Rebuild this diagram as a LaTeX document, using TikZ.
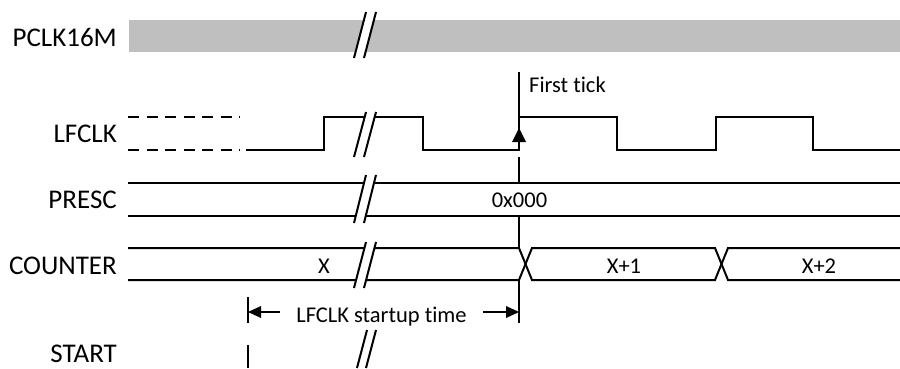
\documentclass[tikz,border=0pt]{standalone}
\usepackage{fontspec}
\setmainfont{Carlito}[Ligatures=NoCommon]
\usetikzlibrary{arrows.meta,calc}
\definecolor{barGray}{HTML}{BFBFBF}
\tikzset{
  sig/.style={line width=2pt, line join=miter},
  siglabel/.style={inner sep=0pt, anchor=base east, font=\fontsize{27}{32}\selectfont},
  annot/.style={inner sep=0pt, anchor=base, font=\fontsize{22.5}{27}\selectfont},
}
\newcommand{\brkmark}[2]{%
  \fill[white] (366,#1) -- (376,#1) -- (364,#2) -- (354,#2) -- cycle;
  \draw[line width=2pt] (366,#1) -- (354,#2);
  \draw[line width=2pt] (376,#1) -- (364,#2);
}
\begin{document}
\begin{tikzpicture}[x=1pt,y=-1pt]
\useasboundingbox (0,0) rectangle (900,368);
% labels
\node[siglabel] (lpclk) at (117,46) {PCLK16M};
\node[siglabel] (llf) at (117,142) {LFCLK};
\node[siglabel] (lpresc) at (117,208) {PRESC};
\node[siglabel] (lcnt) at (117,274) {COUNTER};
\node[siglabel] (lstart) at (117,362) {START};
% PCLK16M bar
\fill[barGray] (129,20) rectangle (900,52);
\brkmark{12}{58}
% LFCLK
\draw[sig, dash pattern=on 11pt off 7.5pt] (128,117) -- (240,117);
\draw[sig, dash pattern=on 11pt off 7.5pt] (128,150) -- (240,150);
\draw[sig] (246,150) -- (324,150) -- (324,117) -- (423,117) -- (423,150) -- (519,150) -- (519,117)
  -- (617,117) -- (617,150) -- (716,150) -- (716,117) -- (813,117) -- (813,150) -- (900,150);
\brkmark{112}{157}
% PRESC
\draw[sig] (128,183) -- (900,183);
\draw[sig] (128,216) -- (900,216);
\brkmark{175}{223}
\node[annot] (vpresc) at (519.5,207) {0x000};
% COUNTER
\draw[sig] (128,248) -- (519,248) -- (532,280) -- (715,280) -- (728,248) -- (900,248);
\draw[sig] (128,280) -- (519,280) -- (532,248) -- (715,248) -- (728,280) -- (900,280);
\brkmark{242}{288}
\node[annot] (vx) at (324,273) {X};
\node[annot] (vx1) at (624,273) {X+1};
\node[annot] (vx2) at (819,273) {X+2};
% first tick line
\coordinate (ft0) at (519,72);
\coordinate (ftlow) at (519,150);
\coordinate (fttip) at (519,128);
\draw[sig] (ft0) -- (ftlow);
\fill (fttip) -- ++(7,14) -- ++(-14,0) -- cycle;
\draw[sig] (519,157) -- (519,183);
\draw[sig] (519,216) -- (519,248);
\coordinate (ftend) at (519,323);
\draw[sig] (519,280) -- (ftend);
\node[inner sep=0pt, anchor=base west, font=\fontsize{22.5}{27}\selectfont] (ftick) at (529,92) {First tick};
% startup time
\coordinate (st0) at (248,297);
\coordinate (st1) at (248,323);
\draw[sig] (st0) -- (st1);
\node[annot] (stlabel) at (381.5,322) {LFCLK startup time};
\coordinate (aL0) at (280,312);
\coordinate (aL1) at (248,312);
\coordinate (aR0) at (483,312);
\coordinate (aR1) at (519,312);
\draw[sig] (aL0) -- ($(aL1)+(8,0)$);
\fill (aL1) -- ++(13,-6) -- ++(0,12) -- cycle;
\draw[sig] (aR0) -- ($(aR1)+(-8,0)$);
\fill (aR1) -- ++(-13,-6) -- ++(0,12) -- cycle;
% START
\coordinate (sA) at (248,345);
\coordinate (sB) at (248,368);
\draw[sig] (sA) -- (sB);
\fill[white] (367,330) -- (376,330) -- (366,368) -- (357,368) -- cycle;
\draw[line width=2pt] (367,330) -- (357,368);
\draw[line width=2pt] (376,330) -- (366,368);
\end{tikzpicture}
\end{document}
